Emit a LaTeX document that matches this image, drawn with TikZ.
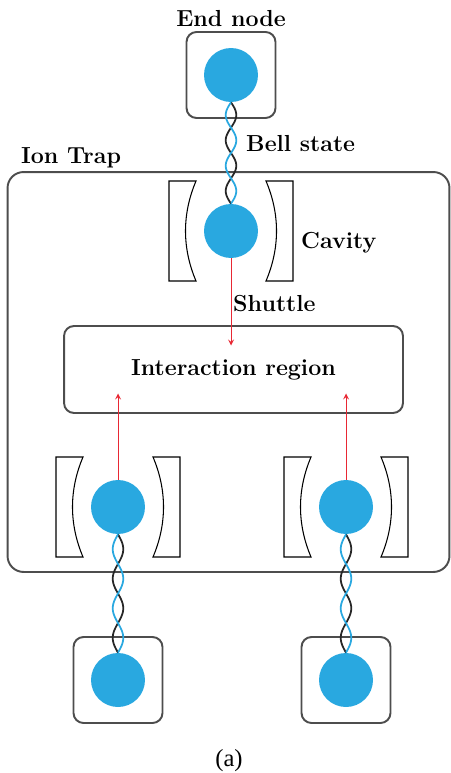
\documentclass[tikz,border=0pt]{standalone}
\usepackage{fontspec}
\newfontfamily\capfont{Liberation Serif}
\usetikzlibrary{positioning,calc}
\definecolor{ionblue}{RGB}{41,168,224}
\definecolor{boxgray}{RGB}{77,77,77}
\definecolor{shuttlered}{RGB}{232,40,52}
\tikzset{ion/.style={circle,fill=ionblue,inner sep=0pt,minimum size=1.08cm},
         nodebox/.style={draw=boxgray,line width=1.1pt,rounded corners=0.2cm,minimum width=1.78cm,minimum height=1.72cm},
         regionbox/.style={draw=boxgray,line width=1.1pt,rounded corners=0.2cm,minimum width=6.78cm,minimum height=1.74cm},
         trapbox/.style={draw=boxgray,line width=1.1pt,rounded corners=0.32cm,minimum width=8.84cm,minimum height=8cm},
         lbl/.style={font=\fontsize{13.2}{16}\selectfont\bfseries},
         mirror/.style={draw=black,line width=0.6pt},
         cavity/.pic={
           \draw[mirror] (-62,-50) -- (-35,-50) .. controls (-49,-17) and (-49,17) .. (-35,50) -- (-62,50) -- cycle;
           \draw[mirror] (62,-50) -- (35,-50) .. controls (49,-17) and (49,17) .. (35,50) -- (62,50) -- cycle;
         }
}
\tikzstyle{shuttle} = [shuttlered,line width=0.5pt,->,>=stealth,shorten >=0.48cm]
\newcommand{\helix}[2]{%
  \draw[black!85,line width=1pt] let \p1=(#1.south), \p2=(#2.north) in
    plot[variable=\t,domain=0:1,samples=81,smooth] ({\x1+3pt*sin(\t*720)},{\y1+(\y2-\y1)*\t});
  \draw[ionblue,line width=1pt] let \p1=(#1.south), \p2=(#2.north) in
    plot[variable=\t,domain=0:1,samples=81,smooth] ({\x1-3pt*sin(\t*720)},{\y1+(\y2-\y1)*\t});
}

\begin{document}
\begin{tikzpicture}[x=0.02cm,y=-0.02cm]
\useasboundingbox (0,0) rectangle (450,773);

% ion trap
\node[trapbox] (trap) at (228.5,372) {};
\node[lbl,anchor=base west] (traplbl) at (15,164) {Ion Trap};
\node[regionbox] (inter) at (233.5,369.5) {};
\node[lbl] at (inter.center) {Interaction region};

% cavities
\node[ion] (cavtop) at (231,231) {};
\node[ion] (cavleft) at (118,507) {};
\node[ion] (cavright) at (346,507) {};
\pic at (cavtop) {cavity};
\pic at (cavleft) {cavity};
\pic at (cavright) {cavity};
\node[lbl,anchor=base west] (cavlbl) at (295,249) {Cavity};

% end nodes
\node[ion] (endtop) at (231,75) {};
\node[nodebox] (boxtop) at (endtop) {};
\node[lbl,above=-1pt of boxtop] (endlbl) {End node};
\node[ion] (endleft) at (118,680) {};
\node[nodebox] (boxleft) at (endleft) {};
\node[ion] (endright) at (346,680) {};
\node[nodebox] (boxright) at (endright) {};

% entanglement
\helix{endtop}{cavtop}
\helix{cavleft}{endleft}
\helix{cavright}{endright}
\node[lbl,anchor=base west] (bell) at (240,152) {Bell state};

% shuttling
\draw[shuttle] (cavtop.south) -- (cavtop |- inter.center);
\draw[shuttle] (cavleft.north) -- (cavleft |- inter.center);
\draw[shuttle] (cavright.north) -- (cavright |- inter.center);
\node[lbl,anchor=base west] (shutlbl) at (227,311) {Shuttle};

\node[font=\capfont\fontsize{14}{17}\selectfont,anchor=base] (cap) at (229,766) {(a)};
\end{tikzpicture}
\end{document}
